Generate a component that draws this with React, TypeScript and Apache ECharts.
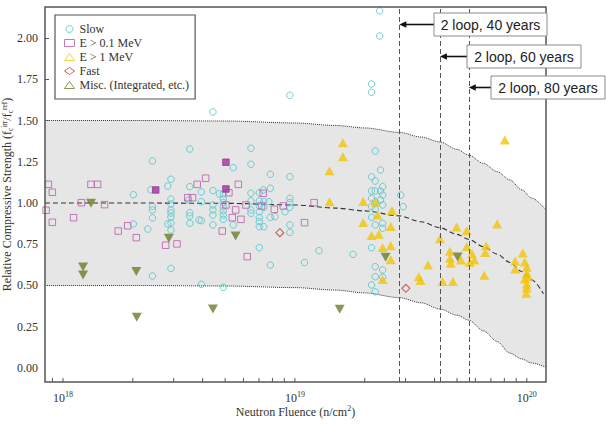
import React, { useEffect, useRef } from "react";
import * as echarts from "echarts";

// ---- measured specimens: [neutron fluence (n/cm²), relative compressive strength] ----
const slowPoints: [number, number][] = [
  [2.01e18, 1.05], [2.43e18, 1.255], [2.39e18, 1.08], [2.43e18, 0.98], [2.43e18, 0.958],
  [2.43e18, 0.91], [2.01e18, 0.873], [2.32e18, 0.842], [2.43e18, 0.558], [2.92e18, 1.144],
  [2.83e18, 1.103], [2.92e18, 1.024], [2.92e18, 0.994], [2.92e18, 0.958], [2.92e18, 0.939],
  [2.92e18, 0.915], [2.92e18, 0.879], [2.92e18, 0.836], [2.83e18, 0.873], [2.92e18, 0.603],
  [3.52e18, 1.327], [3.52e18, 1.099], [3.48e18, 1.018], [3.52e18, 0.941], [3.52e18, 0.921],
  [3.52e18, 0.877], [3.86e18, 0.897], [3.95e18, 1.067], [3.95e18, 1.008], [3.95e18, 0.893],
  [3.95e18, 0.507], [4.43e18, 1.552], [4.43e18, 1.075], [4.43e18, 0.988], [4.43e18, 0.958],
  [4.43e18, 0.927], [4.43e18, 0.867], [4.72e18, 1.055], [4.91e18, 1.055], [4.91e18, 1.024],
  [4.91e18, 1.002], [4.91e18, 0.978], [4.91e18, 0.953], [4.91e18, 0.927], [4.91e18, 0.901],
  [4.91e18, 0.489], [5.42e18, 1.214], [5.42e18, 0.867], [6.46e18, 1.332], [6.46e18, 1.235],
  [6.46e18, 1.059], [6.46e18, 1.012], [6.46e18, 0.958], [6.46e18, 0.938], [7.02e18, 1.062],
  [7.3e18, 1.079], [7.02e18, 1.012], [7.02e18, 0.982], [7.02e18, 0.947], [7.02e18, 0.913],
  [7.02e18, 0.887], [7.02e18, 0.856], [7.35e18, 1.008], [7.35e18, 0.974], [7.35e18, 0.856],
  [7.72e18, 1.008], [7.83e18, 0.913], [8.2e18, 0.917], [7.83e18, 1.174], [7.83e18, 1.089],
  [9.06e18, 0.947], [9.51e18, 1.159], [9.51e18, 1.028], [9.51e18, 1.002], [9.51e18, 0.974],
  [9.51e18, 0.867], [9.51e18, 0.822], [9.51e18, 1.653], [7.02e18, 0.729], [7.83e18, 0.624],
  [1.1e19, 0.639], [1.27e19, 0.711], [1.78e19, 0.689], [2.22e19, 1.315], [2.34e19, 1.2],
  [2.14e19, 1.159], [2.22e19, 1.133], [2.14e19, 1.073], [2.22e19, 1.073], [2.34e19, 1.073],
  [2.39e19, 1.099], [2.39e19, 1.048], [2.14e19, 1.028], [2.22e19, 1.008], [2.34e19, 1.018],
  [2.14e19, 0.978], [2.22e19, 0.962], [2.39e19, 0.988], [2.14e19, 0.913], [2.22e19, 0.867],
  [2.39e19, 0.877], [2.39e19, 0.847], [2.14e19, 0.729], [2.22e19, 0.614], [2.39e19, 0.594],
  [2.22e19, 0.553], [2.39e19, 0.55], [2.14e19, 0.503], [2.22e19, 0.462], [2.86e19, 1.048],
  [2.93e19, 0.978], [2.32e19, 2.165], [2.32e19, 2.012], [2.14e19, 1.721], [2.14e19, 1.671],
];

const e01Points: [number, number][] = [
  [8.65e17, 1.113], [8.99e17, 1.065], [8.45e17, 0.956], [8.99e17, 0.883], [1.32e18, 1.113],
  [1.41e18, 1.113], [1.2e18, 1.002], [1.51e18, 0.99], [1.11e18, 0.911], [1.73e18, 0.83],
  [1.9e18, 0.862], [2.07e18, 0.79], [2.77e18, 0.744], [3.1e18, 0.752], [3.45e18, 1.032],
  [3.62e18, 1.032], [3.79e18, 1.113], [4.12e18, 1.15], [5.7e18, 1.113], [5.19e18, 1.062],
  [7.3e18, 1.059], [5.04e18, 0.988], [6.15e18, 0.988], [7.18e18, 0.982], [8.15e18, 0.962],
  [8.91e18, 0.982], [1.21e19, 1.002], [5.55e18, 0.958], [5.37e18, 0.911], [5.85e18, 0.901],
  [4.86e18, 0.83], [1.1e19, 0.881], [6.23e18, 0.675],
];

// E > 0.1 MeV specimens drawn with solid markers
const e01FilledPoints: [number, number][] = [
  [2.51e18, 1.079], [5.04e18, 1.247], [5.04e18, 1.085],
];

const e1Points: [number, number][] = [
  [1.61e19, 1.365], [1.61e19, 1.281], [1.41e19, 1.196], [1.41e19, 1.008], [1.97e19, 1.009],
  [2.22e19, 1.006], [2.62e19, 0.955], [2.27e19, 0.927], [1.97e19, 0.882], [2.59e19, 0.858],
  [2.14e19, 0.803], [2.3e19, 0.81], [2.39e19, 0.73], [2.59e19, 0.741], [2.59e19, 0.656],
  [2.39e19, 0.536], [8.04e19, 1.382], [4.98e19, 0.855], [5.51e19, 0.832], [4.22e19, 0.784],
  [7.45e19, 0.872], [5.51e19, 0.735], [6.68e19, 0.741], [6.62e19, 0.7], [4.66e19, 0.707],
  [4.66e19, 0.665], [4.7e19, 0.635], [5.2e19, 0.655], [5.8e19, 0.693], [5.94e19, 0.655],
  [5.68e19, 0.641], [3.75e19, 0.624], [6.56e19, 0.562], [3.42e19, 0.553], [3.48e19, 0.53],
  [4.33e19, 0.524], [4.8e19, 0.524], [9.61e19, 0.697], [8.91e19, 0.648], [8.91e19, 0.6],
  [9.8e19, 0.642], [1.0e20, 0.61], [1.0e20, 0.574], [9.8e19, 0.539], [1.0e20, 0.509],
  [1.0e20, 0.485], [9.95e19, 0.453], [1.01e20, 0.553],
];

const fastPoints: [number, number][] = [[8.61e18, 0.82], [3.01e19, 0.483]];

const miscPoints: [number, number][] = [
  [1.32e18, 0.998], [1.22e18, 0.612], [1.22e18, 0.564], [2.07e18, 0.585], [2.08e18, 0.307],
  [2.86e18, 0.786], [5.55e18, 0.8], [4.43e18, 0.358], [1.56e19, 0.356], [2.46e19, 0.671],
  [5.03e19, 0.673],
];

// ---- trend curve and its scatter band ----
const fitFluence = [
  8.36e17, 2e18, 5e18, 1e19, 1.5e19, 2e19, 2.82e19, 3.5e19, 4.22e19, 5e19, 5.62e19,
  6.5e19, 7.45e19, 8.45e19, 9.5e19, 1.05e20, 1.21e20,
];
const fitCenter = [
  1.0, 1.0, 0.998, 0.988, 0.969, 0.952, 0.922, 0.886, 0.85, 0.81, 0.78,
  0.735, 0.69, 0.64, 0.585, 0.535, 0.45,
];
const fitUpper = [
  1.5, 1.5, 1.497, 1.485, 1.47, 1.455, 1.428, 1.4, 1.37, 1.325, 1.29,
  1.24, 1.19, 1.14, 1.08, 1.03, 0.958,
];
const fitLower = [
  0.5, 0.5, 0.497, 0.487, 0.472, 0.455, 0.426, 0.395, 0.357, 0.32, 0.29,
  0.225, 0.16, 0.09, 0.055, 0.03, 0.005,
];
const fitCenterEnd = 1.18e20; // the dashed trend stops just short of the frame

// ---- license-period fluence markers ----
const loopLabels = ["2 loop, 40 years", "2 loop, 60 years", "2 loop, 80 years"];
const loopFluence = [2.82e19, 4.22e19, 5.62e19];

// ---- axis ticks ----
const xTickValues = [
  9e17, 1e18, 2e18, 3e18, 4e18, 5e18, 6e18, 7e18, 8e18, 9e18,
  1e19, 2e19, 3e19, 4e19, 5e19, 6e19, 7e19, 8e19, 9e19, 1e20,
];
const xLabelValues = [1e18, 1e19, 1e20];
const yTickValues = [0, 0.25, 0.5, 0.75, 1.0, 1.25, 1.5, 1.75, 2.0];

const W = 606;
const H = 426;
const GRID = { left: 45, top: 7, right: 60, bottom: 44 };
const X_MIN = 8.36e17;
const X_MAX = 1.21e20;
const Y_MIN = -0.085;
const Y_MAX = 2.188;

const SERIF = '"Liberation Serif", "Times New Roman", serif';
const SANS = '"Liberation Sans", Arial, sans-serif';

const CYAN = "#4ec3c9";
const MAGENTA = "#b65ca9";
const MAGENTA_SOLID = "#a3349a";
const GOLD = "#f1c40a";
const RED = "#c23b2e";
const OLIVE = "#6b7d2b";
const CLEAR = "rgba(0,0,0,0)";

// callout boxes, right side
const calloutBoxes = [
  { x: 434, y: 13, w: 113, h: 23 },
  { x: 467, y: 45, w: 114, h: 23 },
  { x: 491, y: 76, w: 114, h: 23 },
];

const tickRich = {
  sup: { fontSize: 8, fontFamily: SERIF, color: "#333", verticalAlign: "top", lineHeight: 16 },
};
const nameRich = {
  sup: { fontSize: 7.5, fontFamily: SERIF, color: "#333", verticalAlign: "top", lineHeight: 14 },
  sub: { fontSize: 7.5, fontFamily: SERIF, color: "#333", verticalAlign: "bottom", lineHeight: 14 },
};

export default function App() {
  const ref = useRef<HTMLDivElement>(null);

  useEffect(() => {
    if (!ref.current) return;
    const chart = echarts.init(ref.current, null, { renderer: "svg" });

    const option: any = {
      animation: false,
      backgroundColor: "#fff",
      grid: { ...GRID, show: false, containLabel: false, outerBoundsMode: "none" },
      legend: {
        orient: "vertical",
        left: 55,
        top: 15,
        padding: [8, 6, 8, 9],
        itemWidth: 10,
        itemHeight: 7,
        itemGap: 2,
        borderColor: "#555",
        borderWidth: 1.2,
        backgroundColor: "#fff",
        selectedMode: false,
        textStyle: { fontFamily: SERIF, fontSize: 12, color: "#333" },
        data: [
          { name: "Slow", icon: "circle", itemStyle: { color: CLEAR, borderColor: CYAN, borderWidth: 1 } },
          { name: "E > 0.1 MeV", icon: "rect", itemStyle: { color: CLEAR, borderColor: MAGENTA, borderWidth: 1 } },
          { name: "E > 1 MeV", icon: "triangle", itemStyle: { color: CLEAR, borderColor: GOLD, borderWidth: 1 } },
          { name: "Fast", icon: "diamond", itemStyle: { color: CLEAR, borderColor: RED, borderWidth: 1 } },
          { name: "Misc. (Integrated, etc.)", icon: "triangle", itemStyle: { color: CLEAR, borderColor: OLIVE, borderWidth: 1 } },
        ],
      },
      xAxis: {
        type: "log",
        logBase: 10,
        min: X_MIN,
        max: X_MAX,
        axisLine: { show: false },
        axisTick: { show: false },
        splitLine: { show: false },
        axisLabel: {
          margin: 8,
          customValues: xLabelValues,
          color: "#333",
          fontFamily: SERIF,
          fontSize: 12,
          lineHeight: 16,
          formatter: (v: number) => `10{sup|${Math.round(Math.log10(v))}}`,
          rich: tickRich,
        },
        name: "Neutron Fluence (n/cm{sup|2})",
        nameLocation: "middle",
        nameGap: 22,
        nameMoveOverlap: false,
        nameTextStyle: { fontFamily: SERIF, fontSize: 12, color: "#333", lineHeight: 16, rich: tickRich },
      },
      yAxis: {
        type: "value",
        min: Y_MIN,
        max: Y_MAX,
        axisLine: { show: false },
        axisTick: { show: true, inside: true, length: 4, customValues: yTickValues, lineStyle: { color: "#555" } },
        splitLine: { show: false },
        axisLabel: {
          margin: 7,
          customValues: yTickValues,
          color: "#333",
          fontFamily: SERIF,
          fontSize: 12,
          formatter: (v: number) => v.toFixed(2),
        },
        name: "Relative Compressive Strength (f{sub|c}{sup|irr}/f{sub|c}{sup|ref})",
        nameLocation: "middle",
        nameGap: 31,
        nameMoveOverlap: false,
        nameRotate: 90,
        nameTextStyle: { fontFamily: SERIF, fontSize: 12, color: "#333", lineHeight: 14, rich: nameRich },
      },
      series: [
        {
          // upper band edge, filled grey down to the axis floor
          type: "line",
          data: fitFluence.map((f, i) => [f, fitUpper[i]]),
          symbol: "none",
          smooth: 0.3,
          smoothMonotone: "x",
          lineStyle: { type: "dotted", color: "#333", width: 1 },
          areaStyle: { color: "#e6e6e6", opacity: 1, origin: "start" },
          silent: true,
          z: 1,
        },
        {
          // lower band edge, white below it
          type: "line",
          data: fitFluence.map((f, i) => [f, fitLower[i]]),
          symbol: "none",
          smooth: 0.3,
          smoothMonotone: "x",
          lineStyle: { type: "dotted", color: "#333", width: 1 },
          areaStyle: { color: "#fff", opacity: 1, origin: "start" },
          silent: true,
          z: 1,
        },
        {
          type: "line",
          data: fitFluence
            .slice(0, -1)
            .map((f, i) => [f, fitCenter[i]])
            .concat([[fitCenterEnd, fitCenter[fitCenter.length - 1]]]),
          symbol: "none",
          smooth: 0.3,
          smoothMonotone: "x",
          lineStyle: { type: [5, 3], color: "#333", width: 1.1 },
          silent: true,
          z: 2,
          markLine: {
            silent: true,
            symbol: "none",
            label: { show: false },
            lineStyle: { type: [5, 3], color: "#555", width: 1 },
            data: loopFluence.map((f) => ({ xAxis: f })),
          },
        },
        {
          // minor/major ticks along the bottom edge, drawn inward
          type: "custom",
          coordinateSystem: "cartesian2d",
          silent: true,
          z: 6,
          data: xTickValues.map((v) => [v, Y_MIN]),
          renderItem: (_p: any, api: any) => {
            const pt = api.coord([api.value(0), Y_MIN]);
            return {
              type: "line",
              shape: { x1: pt[0], y1: pt[1], x2: pt[0], y2: pt[1] - 4 },
              style: { stroke: "#555", lineWidth: 1 },
            };
          },
        },
        {
          name: "Slow",
          type: "scatter",
          data: slowPoints,
          symbol: "circle",
          symbolSize: 6.5,
          itemStyle: { color: CLEAR, borderColor: CYAN, borderWidth: 1 },
          silent: true,
          z: 3,
        },
        {
          name: "E > 0.1 MeV",
          type: "scatter",
          data: e01Points,
          symbol: "rect",
          symbolSize: 6.5,
          itemStyle: { color: CLEAR, borderColor: MAGENTA, borderWidth: 1 },
          silent: true,
          z: 3,
        },
        {
          name: "E > 0.1 MeV",
          type: "scatter",
          data: e01FilledPoints,
          symbol: "rect",
          symbolSize: 6.5,
          itemStyle: { color: MAGENTA_SOLID, borderColor: MAGENTA_SOLID, borderWidth: 1 },
          silent: true,
          z: 3,
        },
        {
          name: "E > 1 MeV",
          type: "scatter",
          data: e1Points,
          symbol: "triangle",
          symbolSize: [10, 9],
          itemStyle: { color: GOLD },
          silent: true,
          z: 3,
        },
        {
          name: "Fast",
          type: "scatter",
          data: fastPoints,
          symbol: "diamond",
          symbolSize: 8,
          itemStyle: { color: CLEAR, borderColor: RED, borderWidth: 1.1 },
          silent: true,
          z: 3,
        },
        {
          name: "Misc. (Integrated, etc.)",
          type: "scatter",
          data: miscPoints,
          symbol: "triangle",
          symbolRotate: 180,
          symbolSize: [10, 9],
          itemStyle: { color: OLIVE },
          silent: true,
          z: 3,
        },
      ],
    };

    chart.setOption(option);

    // plot frame and the fluence callouts, arrows pointing at the marker lines
    const graphics: any[] = [
      {
        type: "rect",
        z: 50,
        silent: true,
        shape: { x: GRID.left, y: GRID.top, width: W - GRID.left - GRID.right, height: H - GRID.top - GRID.bottom },
        style: { fill: null, stroke: "#555", lineWidth: 1.5 },
      },
    ];
    loopFluence.forEach((f, i) => {
      const tipX = chart.convertToPixel({ xAxisIndex: 0 }, f) as number;
      const b = calloutBoxes[i];
      const y = b.y + b.h / 2;
      graphics.push(
        {
          type: "line",
          z: 60,
          silent: true,
          shape: { x1: b.x, y1: y, x2: tipX + 5, y2: y },
          style: { stroke: "#111", lineWidth: 1.6 },
        },
        {
          type: "polygon",
          z: 60,
          silent: true,
          shape: { points: [[tipX, y], [tipX + 7, y - 3.2], [tipX + 7, y + 3.2]] },
          style: { fill: "#111" },
        },
        {
          type: "rect",
          z: 61,
          silent: true,
          shape: { x: b.x, y: b.y, width: b.w, height: b.h },
          style: { fill: "#fff", stroke: "#8c8c8c", lineWidth: 1 },
        },
        {
          type: "text",
          z: 62,
          silent: true,
          style: {
            text: loopLabels[i],
            x: b.x + b.w / 2,
            y: y + 0.5,
            align: "center",
            verticalAlign: "middle",
            font: `14px ${SANS}`,
            fill: "#222",
          },
        }
      );
    });
    chart.setOption({ graphic: graphics });

    return () => chart.dispose();
  }, []);

  return <div ref={ref} style={{ position: "fixed", left: 0, top: 0, width: W, height: H }} />;
}
